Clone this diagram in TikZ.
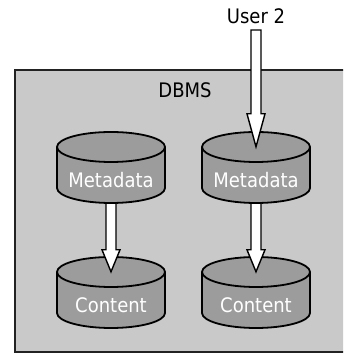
\documentclass[tikz,border=0pt]{standalone}
\usepackage{fontspec}
\setmainfont{DejaVu Sans}
\newfontfamily\labelfont[FakeStretch=0.9]{DejaVu Sans}
\usetikzlibrary{calc}
\definecolor{panelgray}{HTML}{C9C9C9}
\definecolor{cylgray}{HTML}{9C9C9C}
\definecolor{framegray}{HTML}{222222}
\tikzset{
  panel/.style={fill=panelgray, draw=framegray, line width=2pt},
  cylbody/.style={fill=cylgray, draw=black, line width=1.8pt},
  cylslot/.style={minimum width=108pt, minimum height=71pt, inner sep=0pt},
  cyltext/.style={text=white, font=\labelfont\fontsize{20}{22}\selectfont, inner sep=0pt, anchor=base},
  caption/.style={text=black, font=\labelfont\fontsize{20}{22}\selectfont, inner sep=0pt, anchor=base},
  hollow/.style={fill=white, draw=black, line width=1.4pt, line join=miter,
    to path={let \p1=(\tikztostart), \p2=(\tikztotarget) in
      (\x1-5pt,\y1) -- (\x1-5pt,\y2+#1) -- (\x1-9pt,\y2+#1) -- (\x2,\y2)
      -- (\x1+9pt,\y2+#1) -- (\x1+5pt,\y2+#1) -- (\x1+5pt,\y1) -- cycle}},
  hollow/.default=22pt
}
% #1 name, #2 centre x, #3 centre y of the top ellipse, #4 label
\newcommand\drum[4]{%
  \node[cylslot] (#1) at (#2,#3-20.5) {};
  \filldraw[cylbody] (#2-54,#3) -- (#2-54,#3-41)
    arc[start angle=180, end angle=360, x radius=54pt, y radius=15pt]
    -- (#2+54,#3)
    arc[start angle=0, end angle=180, x radius=54pt, y radius=15pt] -- cycle;
  \draw[cylbody, fill=none] (#2-54,#3)
    arc[start angle=180, end angle=360, x radius=54pt, y radius=15pt];
  \node[cyltext] (#1-label) at (#2,#3-41) {#4};
}
\begin{document}
\begin{tikzpicture}[x=1pt, y=1pt]
  \useasboundingbox (0,0) rectangle (343,356);
  \clip (0,0) rectangle (343,356);
  \fill[white] (0,0) rectangle (343,356);
  % DBMS frame
  \path[panel] (15,4) rectangle (365,286);
  \node[caption] (dbms) at (185,258) {DBMS};
  % storage drums
  \drum{meta1}{111}{209}{Metadata}
  \drum{meta2}{256}{209}{Metadata}
  \drum{cont1}{111}{84}{Content}
  \drum{cont2}{256}{84}{Content}
  % user
  \node[caption] (user) at (256,332) {User 2};
  % flows
  \draw[hollow=33pt] ([yshift=-6pt]user.base) to ([yshift=-15pt]meta2.north);
  \draw[hollow] (meta1.south) to ([yshift=-15pt]cont1.north);
  \draw[hollow] (meta2.south) to ([yshift=-15pt]cont2.north);
\end{tikzpicture}
\end{document}
